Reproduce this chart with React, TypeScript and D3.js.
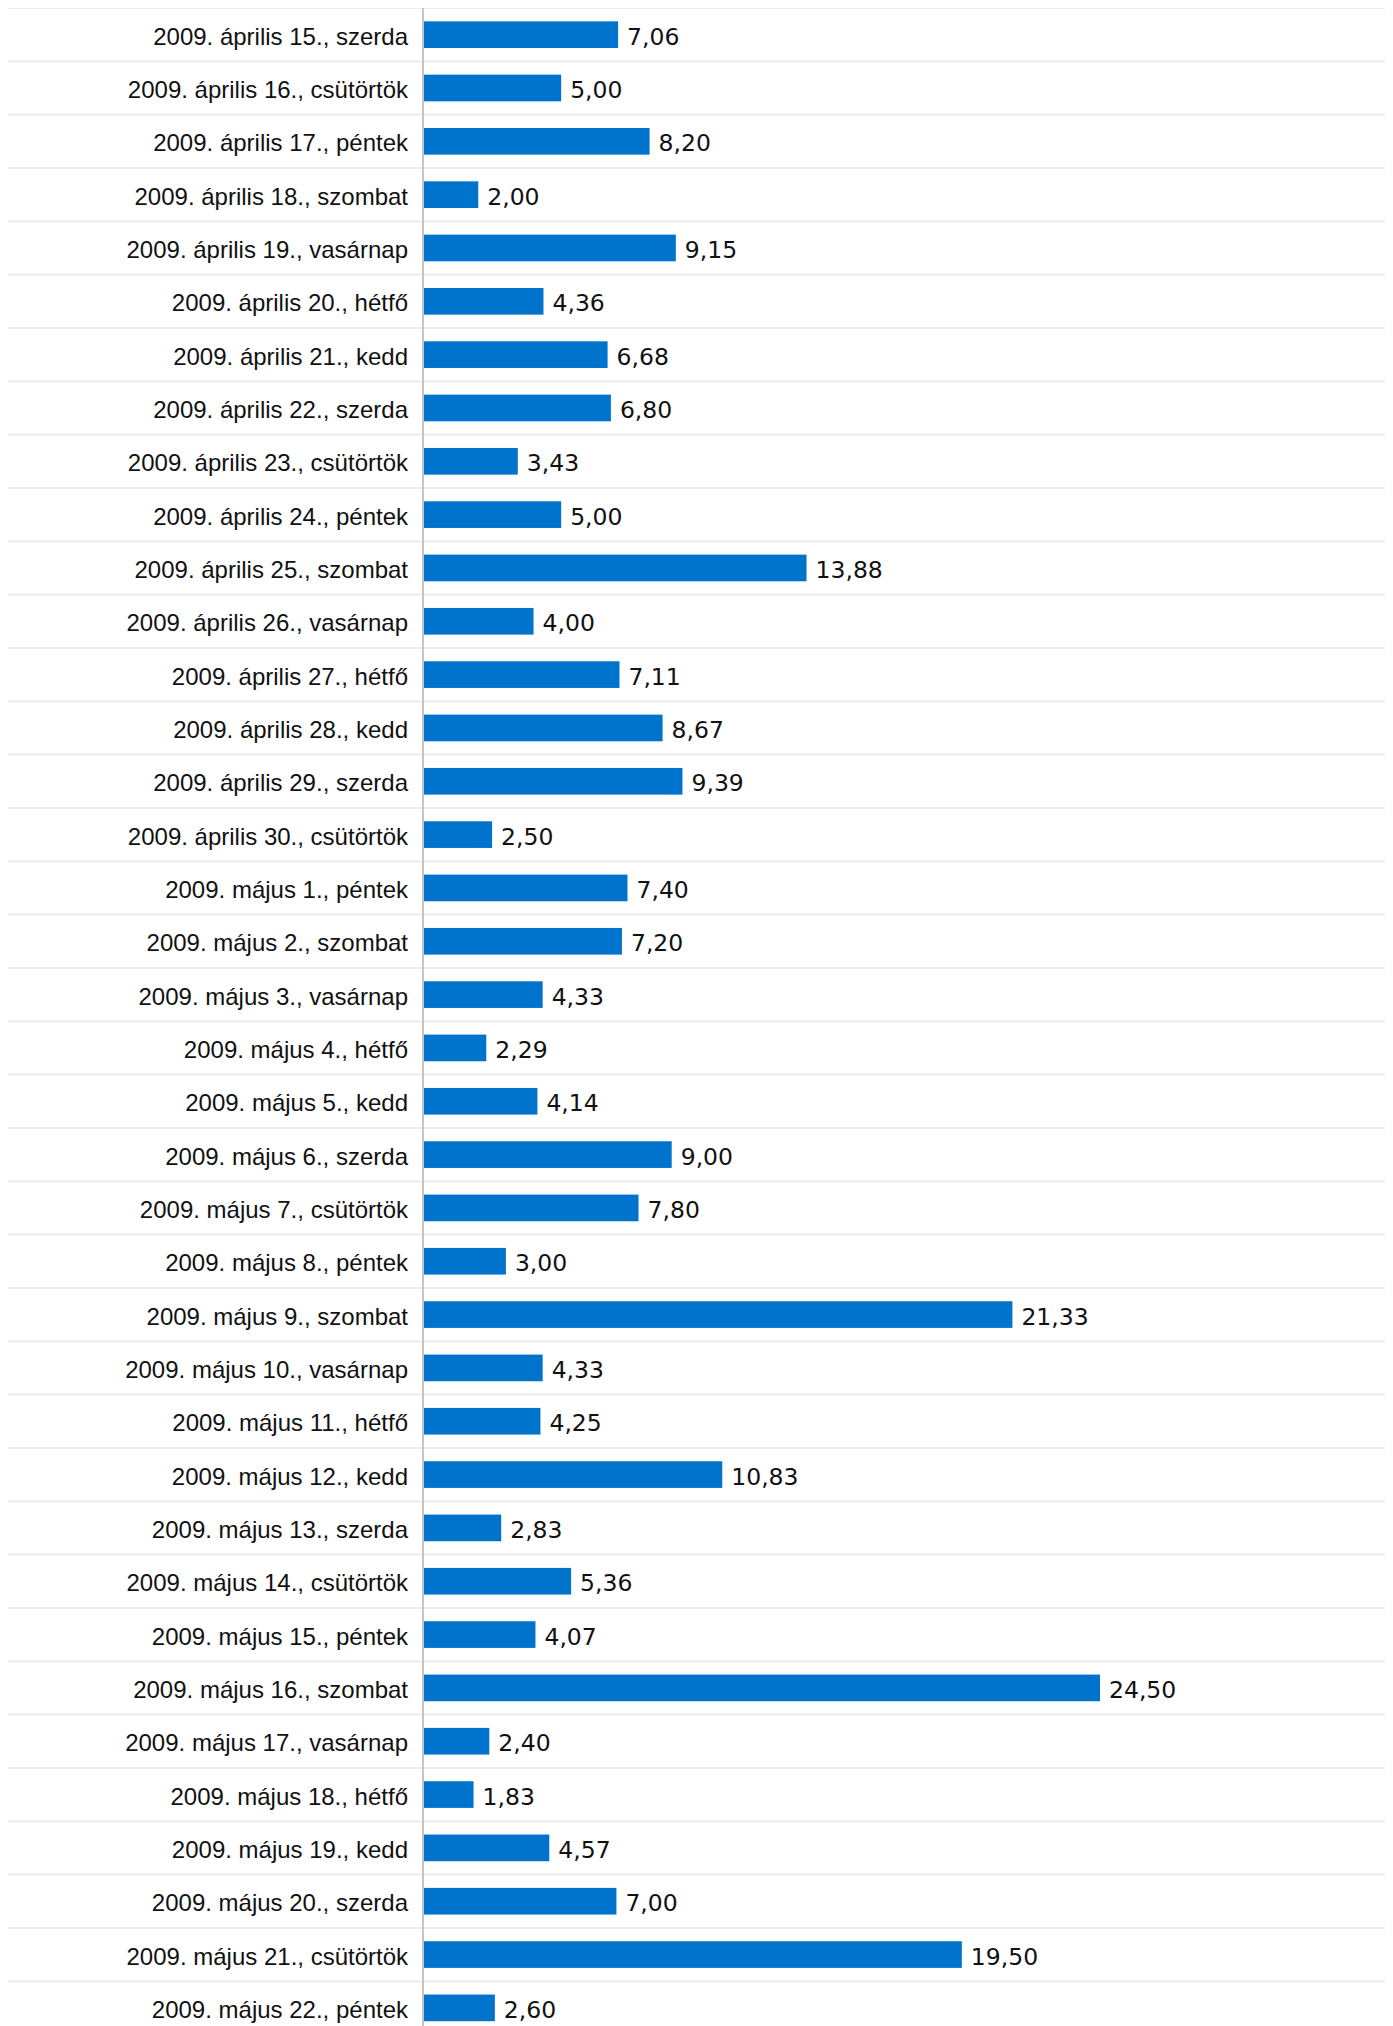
import React from "react";
import * as d3 from "d3";

const categories: string[] = [
  "2009. április 15., szerda",
  "2009. április 16., csütörtök",
  "2009. április 17., péntek",
  "2009. április 18., szombat",
  "2009. április 19., vasárnap",
  "2009. április 20., hétfő",
  "2009. április 21., kedd",
  "2009. április 22., szerda",
  "2009. április 23., csütörtök",
  "2009. április 24., péntek",
  "2009. április 25., szombat",
  "2009. április 26., vasárnap",
  "2009. április 27., hétfő",
  "2009. április 28., kedd",
  "2009. április 29., szerda",
  "2009. április 30., csütörtök",
  "2009. május 1., péntek",
  "2009. május 2., szombat",
  "2009. május 3., vasárnap",
  "2009. május 4., hétfő",
  "2009. május 5., kedd",
  "2009. május 6., szerda",
  "2009. május 7., csütörtök",
  "2009. május 8., péntek",
  "2009. május 9., szombat",
  "2009. május 10., vasárnap",
  "2009. május 11., hétfő",
  "2009. május 12., kedd",
  "2009. május 13., szerda",
  "2009. május 14., csütörtök",
  "2009. május 15., péntek",
  "2009. május 16., szombat",
  "2009. május 17., vasárnap",
  "2009. május 18., hétfő",
  "2009. május 19., kedd",
  "2009. május 20., szerda",
  "2009. május 21., csütörtök",
  "2009. május 22., péntek",
];

const values: number[] = [
  7.06, 5.0, 8.2, 2.0, 9.15, 4.36, 6.68, 6.8, 3.43, 5.0, 13.88, 4.0, 7.11, 8.67,
  9.39, 2.5, 7.4, 7.2, 4.33, 2.29, 4.14, 9.0, 7.8, 3.0, 21.33, 4.33, 4.25, 10.83,
  2.83, 5.36, 4.07, 24.5, 2.4, 1.83, 4.57, 7.0, 19.5, 2.6,
];

const fmt = (v: number) => v.toFixed(2).replace(".", ",");

export default function App() {
  const width = 1385;
  const gridEnd = 1384;
  const rowH = 53.33;
  const top = 0;
  const height = Math.ceil(top + rowH * categories.length) + 2;
  const axisX = 415;

  const y = d3
    .scaleBand<string>()
    .domain(categories)
    .range([top, top + rowH * categories.length])
    .paddingInner(0.5)
    .paddingOuter(0.25);

  const x = d3.scaleLinear().domain([0, 24.5]).range([axisX, axisX + 677]);

  const rowStarts = categories.map((_, i) => top + i * rowH);

  return (
    <>
      <style>{`html,body{overflow:hidden;}`}</style>
      <svg
        width={width}
        height={height}
        style={{ display: "block", overflow: "visible" }}
      >
        <rect x={0} y={0} width={width} height={height} fill="#fff" />
        {rowStarts.map((ry, i) => (
          <line
            key={"g" + i}
            x1={0}
            x2={gridEnd}
            y1={ry}
            y2={ry}
            stroke="#ececec"
            strokeWidth={2}
          />
        ))}
        {categories.map((c, i) => {
          const by = y(c)!;
          const bw = y.bandwidth();
          const cy = by + bw / 2;
          return (
            <g key={c}>
              <rect
                x={x(0)}
                y={by}
                width={x(values[i]) - x(0)}
                height={bw}
                fill="#0074cc"
              />
              <text
                x={axisX - 15}
                y={cy + 10}
                textAnchor="end"
                fontFamily="'Liberation Sans', Arial, sans-serif"
                fontSize={24}
                fill="#111"
              >
                {c}
              </text>
              <text
                x={x(values[i]) + 9}
                y={cy + 10}
                fontFamily="'DejaVu Sans', Verdana, sans-serif"
                fontSize={23.5}
                fill="#111"
              >
                {fmt(values[i])}
              </text>
            </g>
          );
        })}
        <line
          x1={axisX}
          x2={axisX}
          y1={top}
          y2={height}
          stroke="#c4c4c4"
          strokeWidth={2}
        />
      </svg>
    </>
  );
}
